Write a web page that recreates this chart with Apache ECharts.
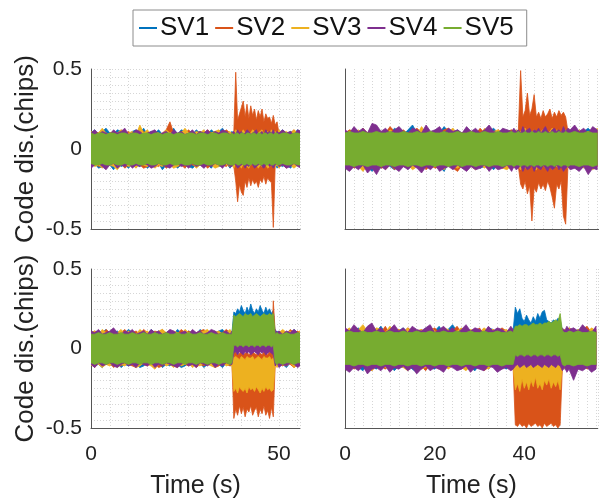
<!DOCTYPE html>
<html>
<head>
<meta charset="utf-8">
<script src="https://cdn.jsdelivr.net/npm/echarts@6/dist/echarts.min.js"></script>
<style>
  html, body { margin: 0; padding: 0; background: #fff; }
  #chart { width: 599px; height: 500px; }
</style>
</head>
<body>
<div id="chart"></div>
<script>
// ---- Data (chips). Each series is drawn as the envelope (hi / lo) of the dense noisy code-discriminator trace ----
const seriesNames = ['SV1', 'SV2', 'SV3', 'SV4', 'SV5'];
const seriesColors = ['#0072BD', '#D95319', '#EDB120', '#7E2F8E', '#77AC30'];
const yTickLabels = ['-0.5', '0', '0.5'];
const xTickLabelsLeft = [0, 50];
const xTickLabelsRight = [0, 20, 40];

// time samples (s)
const T = [0,1,2,3,4,5,6,7,8,9,10,11,12,13,14,15,16,17,18,19,20,21,22,23,24,25,26,27,28,29,30,31,32,33,34,35,36,37,
  37.5,38,38.5,39,39.5,40,40.5,41,41.5,42,42.5,43,43.5,
  44,44.5,45,45.5,46,46.5,47,47.5,48,48.5,49,49.5,50,
  51,52,53,54,55,56];

// ---- top-left panel ----
const tl1hi = [.10,.12,.09,.11,.13,.10,.09,.12,.11,.10, .09,.11,.12,.10,.13,.09,.11,.10,.12,.09, .11,.10,.13,.09,.12,.11,.10,.09,.12,.10, .11,.09,.12,.10,.11,.13,.09,.10,
  .11,.10,.12,.09,.11,.10,.12,.09,.10,.11,.09,.12,.10, .11,.09,.10,.12,.11,.09,.10,.11,.12,.10,.09,.11,.10, .12,.09,.11,.10,.12,.10];
const tl1lo = [-.10,-.09,-.12,-.11,-.09,-.10,-.13,-.09,-.11,-.10, -.12,-.09,-.10,-.11,-.09,-.12,-.10,-.11,-.09,-.13, -.10,-.11,-.09,-.12,-.10,-.09,-.11,-.12,-.10,-.09, -.11,-.10,-.12,-.09,-.11,-.10,-.09,-.12,
  -.10,-.11,-.09,-.12,-.10,-.09,-.11,-.10,-.12,-.09,-.11,-.10,-.09, -.12,-.10,-.11,-.09,-.10,-.12,-.11,-.09,-.10,-.11,-.09,-.12,-.10, -.11,-.09,-.12,-.10,-.09,-.11];
const tl2hi = [.09,.11,.10,.12,.09,.10,.11,.09,.12,.10, .11,.09,.10,.12,.11,.09,.10,.11,.09,.10, .12,.17,.10,.09,.11,.10,.12,.09,.10,.11, .09,.12,.10,.11,.09,.10,.12,.10,
  .10,.11,.48,.18,.22,.26,.30,.20,.28,.19,.27,.21,.25, .18,.24,.20,.25,.17,.22,.19,.20,.16,.21,.15,.17,.10, .11,.09,.10,.12,.09,.11];
const tl2lo = [-.10,-.09,-.11,-.10,-.12,-.09,-.10,-.11,-.09,-.12, -.10,-.11,-.09,-.10,-.12,-.11,-.09,-.10,-.11,-.09, -.12,-.10,-.09,-.11,-.10,-.12,-.09,-.10,-.11,-.10, -.09,-.12,-.10,-.11,-.09,-.10,-.11,-.09,
  -.10,-.11,-.20,-.33,-.22,-.27,-.29,-.20,-.24,-.18,-.23,-.19,-.22, -.20,-.24,-.19,-.21,-.17,-.22,-.18,-.20,-.21,-.49,-.10,-.09,-.11, -.10,-.12,-.09,-.11,-.10,-.09];
const tl3hi = [.11,.09,.10,.13,.10,.09,.11,.10,.12,.09, .10,.11,.09,.15,.10,.12,.09,.11,.10,.09, .12,.10,.11,.09,.10,.13,.10,.09,.11,.10, .12,.09,.10,.11,.12,.09,.10,.11,
  .09,.10,.12,.11,.09,.10,.12,.10,.11,.09,.10,.12,.11, .09,.10,.11,.12,.09,.10,.11,.09,.12,.10,.11,.09,.12, .10,.11,.09,.12,.10,.11];
const tl3lo = [-.09,-.11,-.10,-.12,-.09,-.10,-.11,-.13,-.10,-.09, -.11,-.10,-.12,-.09,-.10,-.11,-.09,-.12,-.10,-.11, -.09,-.10,-.12,-.11,-.09,-.10,-.11,-.09,-.12,-.10, -.11,-.09,-.10,-.12,-.11,-.09,-.10,-.11,
  -.10,-.12,-.09,-.11,-.10,-.12,-.09,-.10,-.11,-.12,-.09,-.10,-.11, -.09,-.12,-.10,-.11,-.09,-.10,-.12,-.11,-.10,-.09,-.11,-.10,-.12, -.09,-.11,-.10,-.12,-.10,-.11];
const tl4hi = [.10,.12,.09,.11,.10,.09,.12,.10,.11,.13, .09,.10,.12,.11,.09,.10,.11,.12,.09,.10, .11,.09,.12,.10,.11,.09,.10,.12,.09,.11, .10,.12,.09,.11,.10,.12,.11,.09,
  .10,.11,.09,.12,.10,.11,.09,.10,.12,.11,.09,.10,.11, .12,.09,.10,.11,.09,.12,.10,.11,.10,.12,.09,.11,.10, .12,.10,.11,.09,.12,.11];
const tl4lo = [-.12,-.10,-.09,-.11,-.13,-.10,-.09,-.12,-.10,-.11, -.09,-.12,-.10,-.11,-.09,-.10,-.12,-.11,-.09,-.10, -.11,-.12,-.10,-.09,-.11,-.10,-.12,-.09,-.11,-.10, -.12,-.10,-.11,-.09,-.10,-.12,-.09,-.11,
  -.11,-.09,-.10,-.12,-.11,-.10,-.09,-.12,-.10,-.11,-.09,-.10,-.12, -.11,-.10,-.09,-.11,-.12,-.10,-.09,-.11,-.10,-.12,-.10,-.09,-.11, -.10,-.12,-.11,-.09,-.11,-.12];
const tl5hi = [.10,.09,.10,.10,.09,.10,.10,.09,.10,.10, .09,.10,.10,.09,.10,.10,.09,.10,.10,.09, .10,.10,.09,.10,.10,.09,.10,.10,.09,.10, .10,.09,.10,.10,.09,.10,.10,.09,
  .10,.09,.10,.10,.09,.10,.10,.09,.10,.10,.09,.10,.10, .09,.10,.10,.09,.10,.10,.09,.10,.10,.09,.10,.10,.09, .10,.10,.09,.10,.10,.09];
const tl5lo = [-.09,-.10,-.10,-.09,-.10,-.10,-.09,-.10,-.10,-.09, -.10,-.10,-.09,-.10,-.10,-.09,-.10,-.10,-.09,-.10, -.10,-.09,-.10,-.10,-.09,-.10,-.10,-.09,-.10,-.10, -.09,-.10,-.10,-.09,-.10,-.10,-.09,-.10,
  -.10,-.10,-.09,-.10,-.10,-.09,-.10,-.10,-.09,-.10,-.10,-.09,-.10, -.10,-.09,-.10,-.10,-.09,-.10,-.10,-.09,-.10,-.10,-.09,-.10,-.10, -.09,-.10,-.10,-.09,-.10,-.10];

// ---- top-right panel ----
const tr1hi = [.11,.10,.13,.09,.12,.10,.14,.11,.09,.12, .10,.13,.11,.09,.12,.15,.10,.11,.13,.09, .12,.10,.14,.11,.10,.12,.09,.13,.11,.10, .12,.09,.11,.13,.10,.12,.11,.09,
  .12,.10,.11,.13,.09,.12,.10,.11,.09,.12,.10,.13,.11, .09,.10,.12,.11,.10,.09,.12,.11,.10,.13,.09,.11,.10, .12,.10,.11,.13,.10,.12];
const tr1lo = [-.11,-.13,-.10,-.12,-.09,-.11,-.14,-.10,-.12,-.09, -.11,-.13,-.10,-.09,-.12,-.11,-.10,-.13,-.09,-.12, -.10,-.11,-.14,-.09,-.12,-.10,-.11,-.13,-.10,-.09, -.12,-.11,-.10,-.13,-.09,-.11,-.12,-.10,
  -.11,-.10,-.12,-.09,-.13,-.10,-.11,-.12,-.09,-.10,-.11,-.13,-.10, -.12,-.09,-.11,-.10,-.12,-.11,-.09,-.13,-.10,-.12,-.11,-.10,-.12, -.10,-.13,-.11,-.09,-.12,-.10];
const tr2hi = [.10,.12,.11,.09,.13,.10,.11,.12,.09,.10, .14,.11,.10,.12,.09,.11,.13,.10,.12,.09, .11,.10,.12,.13,.09,.11,.10,.12,.11,.09, .13,.10,.11,.09,.12,.10,.11,.12,
  .11,.10,.12,.49,.20,.24,.35,.21,.25,.34,.20,.23,.19, .24,.20,.22,.25,.19,.23,.20,.24,.21,.23,.20,.11,.10, .12,.09,.11,.10,.13,.11];
const tr2lo = [-.11,-.09,-.12,-.10,-.13,-.11,-.10,-.09,-.12,-.11, -.10,-.13,-.09,-.11,-.12,-.10,-.11,-.09,-.13,-.10, -.12,-.11,-.10,-.09,-.12,-.14,-.10,-.11,-.09,-.12, -.10,-.11,-.13,-.10,-.09,-.12,-.11,-.10,
  -.10,-.12,-.11,-.22,-.25,-.20,-.28,-.23,-.45,-.24,-.27,-.21,-.25, -.22,-.26,-.20,-.24,-.30,-.37,-.22,-.25,-.20,-.42,-.47,-.11,-.10, -.12,-.10,-.11,-.13,-.09,-.11];
const tr3hi = [.09,.11,.10,.12,.09,.10,.13,.10,.11,.09, .12,.10,.09,.11,.10,.12,.09,.14,.10,.11, .09,.12,.10,.11,.13,.09,.10,.12,.11,.10, .09,.13,.10,.11,.12,.09,.10,.11,
  .10,.12,.09,.11,.10,.13,.09,.11,.10,.12,.09,.10,.11, .12,.10,.09,.11,.13,.10,.12,.09,.11,.10,.12,.10,.11, .09,.12,.10,.11,.09,.13];
const tr3lo = [-.10,-.12,-.09,-.11,-.14,-.10,-.12,-.11,-.09,-.13, -.10,-.11,-.12,-.09,-.10,-.13,-.11,-.10,-.09,-.12, -.11,-.10,-.13,-.09,-.11,-.12,-.10,-.09,-.11,-.13, -.10,-.12,-.09,-.11,-.10,-.12,-.13,-.10,
  -.12,-.10,-.11,-.13,-.10,-.12,-.09,-.11,-.10,-.12,-.13,-.09,-.11, -.10,-.12,-.11,-.09,-.13,-.10,-.11,-.12,-.10,-.09,-.11,-.12,-.10, -.11,-.09,-.12,-.10,-.13,-.11];
const tr4hi = [.12,.10,.14,.11,.13,.10,.16,.15,.11,.13, .10,.12,.14,.11,.10,.13,.12,.10,.15,.11, .12,.14,.10,.13,.11,.12,.10,.14,.11,.13, .10,.12,.15,.11,.10,.13,.12,.11,
  .13,.11,.12,.10,.14,.11,.12,.13,.10,.12,.11,.13,.10, .12,.14,.11,.10,.12,.13,.11,.12,.10,.14,.11,.13,.12, .15,.11,.13,.10,.14,.12];
const tr4lo = [-.12,-.14,-.11,-.13,-.10,-.15,-.12,-.16,-.11,-.13, -.10,-.12,-.14,-.11,-.13,-.10,-.12,-.15,-.11,-.13, -.10,-.14,-.12,-.11,-.13,-.10,-.12,-.14,-.11,-.13, -.12,-.10,-.14,-.11,-.13,-.12,-.10,-.14,
  -.11,-.13,-.12,-.10,-.14,-.11,-.13,-.12,-.10,-.14,-.11,-.12,-.13, -.10,-.12,-.14,-.11,-.13,-.12,-.10,-.13,-.11,-.14,-.12,-.11,-.13, -.12,-.14,-.11,-.16,-.12,-.13];
const tr5hi = [.10,.11,.10,.10,.11,.10,.10,.11,.10,.10, .11,.10,.10,.11,.10,.10,.11,.10,.10,.11, .10,.10,.11,.10,.10,.11,.10,.10,.11,.10, .10,.11,.10,.10,.11,.10,.10,.11,
  .10,.10,.11,.10,.10,.11,.10,.10,.11,.10,.10,.11,.10, .10,.11,.10,.10,.11,.10,.10,.11,.10,.10,.11,.10,.10, .11,.10,.10,.11,.10,.10];
const tr5lo = [-.10,-.10,-.11,-.10,-.10,-.11,-.10,-.10,-.11,-.10, -.10,-.11,-.10,-.10,-.11,-.10,-.10,-.11,-.10,-.10, -.11,-.10,-.10,-.11,-.10,-.10,-.11,-.10,-.10,-.11, -.10,-.10,-.11,-.10,-.10,-.11,-.10,-.10,
  -.11,-.10,-.10,-.11,-.10,-.10,-.11,-.10,-.10,-.11,-.10,-.10,-.11, -.10,-.10,-.11,-.10,-.10,-.11,-.10,-.10,-.11,-.10,-.10,-.11,-.10, -.10,-.11,-.10,-.10,-.11,-.10];

// ---- bottom-left panel ----
const bl1hi = [.10,.09,.11,.10,.12,.09,.10,.11,.09,.10, .12,.10,.09,.11,.10,.09,.12,.10,.11,.09, .10,.11,.09,.12,.10,.09,.11,.10,.09,.12, .10,.11,.09,.10,.11,.12,.09,.10,
  .10,.23,.22,.25,.23,.27,.24,.22,.26,.23,.28,.24,.22, .25,.23,.27,.24,.22,.26,.23,.25,.22,.24,.10,.11,.09, .11,.10,.09,.12,.10,.11];
const bl1lo = [-.09,-.11,-.10,-.12,-.09,-.10,-.11,-.09,-.12,-.10, -.11,-.09,-.10,-.12,-.11,-.09,-.10,-.11,-.09,-.12, -.10,-.11,-.09,-.10,-.12,-.11,-.09,-.10,-.11,-.09, -.12,-.10,-.09,-.11,-.10,-.12,-.09,-.11,
  -.10,.05,.04,.06,.05,.04,.06,.05,.04,.06,.05,.04,.06, .05,.04,.06,.05,.04,.06,.05,.04,.06,.05,-.10,-.11,-.09, -.10,-.12,-.09,-.11,-.10,-.09];
const bl2hi = [.09,.11,.10,.09,.12,.10,.11,.09,.10,.12, .09,.10,.11,.09,.12,.10,.09,.11,.10,.12, .09,.11,.10,.09,.12,.10,.11,.09,.10,.11, .12,.09,.10,.11,.09,.10,.12,.10,
  .11,-.03,-.02,-.04,-.03,-.02,-.04,-.03,-.02,-.04,-.03,-.02,-.03, -.04,-.02,-.03,-.04,-.02,-.03,-.04,-.02,-.03,.30,.10,.09,.11, .10,.09,.12,.10,.11,.09];
const bl2lo = [-.10,-.12,-.09,-.11,-.10,-.09,-.12,-.10,-.11,-.09, -.10,-.11,-.12,-.09,-.10,-.11,-.09,-.10,-.12,-.11, -.09,-.10,-.11,-.12,-.09,-.10,-.11,-.09,-.12,-.10, -.11,-.09,-.10,-.12,-.11,-.09,-.10,-.11,
  -.10,-.44,-.38,-.42,-.36,-.41,-.37,-.43,-.38,-.40,-.36,-.42,-.39, -.37,-.43,-.38,-.41,-.36,-.42,-.39,-.44,-.37,-.43,-.10,-.11,-.09, -.11,-.09,-.10,-.12,-.10,-.11];
const bl3hi = [.10,.11,.09,.12,.10,.09,.11,.10,.12,.09, .11,.10,.09,.12,.10,.11,.09,.10,.11,.12, .10,.09,.11,.10,.09,.12,.10,.11,.09,.10, .11,.12,.09,.10,.11,.09,.10,.12,
  .10,-.06,-.05,-.06,-.07,-.05,-.06,-.07,-.05,-.06,-.06,-.05,-.07, -.06,-.05,-.06,-.07,-.05,-.06,-.06,-.05,-.07,-.06,.11,.09,.10, .12,.10,.11,.09,.10,.12];
const bl3lo = [-.11,-.09,-.10,-.12,-.10,-.11,-.09,-.12,-.10,-.11, -.09,-.10,-.12,-.11,-.09,-.10,-.11,-.13,-.10,-.09, -.11,-.10,-.12,-.09,-.11,-.10,-.09,-.12,-.10,-.11, -.09,-.10,-.11,-.12,-.10,-.09,-.11,-.10,
  -.11,-.27,-.25,-.28,-.24,-.26,-.27,-.25,-.28,-.24,-.26,-.25,-.27, -.24,-.26,-.28,-.25,-.27,-.24,-.26,-.25,-.27,-.26,-.10,-.12,-.09, -.10,-.11,-.09,-.12,-.10,-.11];
const bl4hi = [.11,.10,.12,.09,.10,.11,.13,.10,.09,.11, .10,.12,.09,.10,.11,.09,.12,.10,.11,.09, .10,.12,.11,.09,.10,.11,.09,.12,.10,.11, .09,.10,.12,.11,.09,.10,.11,.09,
  .11,.04,.03,.04,.03,.04,.03,.04,.03,.04,.03,.04,.03, .04,.03,.04,.03,.04,.03,.04,.03,.04,.03,.12,.10,.11, .09,.11,.10,.12,.10,.09];
const bl4lo = [-.10,-.12,-.09,-.11,-.10,-.09,-.11,-.12,-.10,-.09, -.11,-.10,-.12,-.09,-.10,-.11,-.09,-.12,-.10,-.11, -.09,-.10,-.11,-.12,-.10,-.09,-.11,-.10,-.12,-.09, -.10,-.11,-.09,-.12,-.10,-.11,-.09,-.10,
  -.10,-.03,-.02,-.04,-.02,-.03,-.04,-.02,-.03,-.02,-.04,-.03,-.02, -.03,-.04,-.02,-.03,-.02,-.04,-.03,-.02,-.03,-.04,-.11,-.09,-.12, -.10,-.11,-.09,-.10,-.12,-.10];
const bl5hi = [.09,.09,.10,.09,.09,.10,.09,.09,.10,.09, .09,.10,.09,.09,.10,.09,.09,.10,.09,.09, .10,.09,.09,.10,.09,.09,.10,.09,.09,.10, .09,.09,.10,.09,.09,.10,.09,.09,
  .09,.21,.20,.21,.22,.21,.20,.22,.21,.21,.22,.20,.21, .22,.21,.20,.21,.22,.21,.21,.22,.21,.22,.09,.10,.09, .09,.10,.09,.09,.10,.09];
const bl5lo = [-.09,-.10,-.09,-.09,-.10,-.09,-.09,-.10,-.09,-.09, -.10,-.09,-.09,-.10,-.09,-.09,-.10,-.09,-.09,-.10, -.09,-.09,-.10,-.09,-.09,-.10,-.09,-.09,-.10,-.09, -.09,-.10,-.09,-.09,-.10,-.09,-.09,-.10,
  -.09,.02,.02,.01,.02,.02,.01,.02,.02,.01,.02,.02,.01, .02,.02,.01,.02,.02,.01,.02,.02,.01,.02,-.09,-.10,-.09, -.10,-.09,-.09,-.10,-.09,-.09];

// ---- bottom-right panel ----
const br1hi = [.12,.10,.11,.13,.09,.12,.10,.11,.14,.10, .12,.09,.11,.13,.10,.12,.11,.09,.13,.10, .11,.14,.10,.12,.15,.11,.10,.13,.09,.12, .11,.10,.13,.12,.10,.11,.09,.12,
  .11,.26,.22,.25,.19,.17,.21,.18,.16,.20,.17,.22,.19, .23,.24,.18,.17,.16,.18,.17,.19,.18,.11,.10,.12,.11, .10,.12,.11,.13,.10,.11];
const br1lo = [-.11,-.13,-.10,-.12,-.14,-.10,-.11,-.13,-.09,-.12, -.10,-.14,-.11,-.12,-.10,-.13,-.15,-.11,-.10,-.12, -.13,-.10,-.11,-.12,-.09,-.13,-.11,-.10,-.12,-.14, -.10,-.11,-.13,-.10,-.12,-.11,-.13,-.10,
  -.12,.00,.01,.00,-.01,.00,.01,.00,-.01,.00,.01,.00,-.01, .00,.01,.00,-.01,.00,.01,.00,-.01,.00,-.11,-.13,-.10,-.12, -.11,-.10,-.13,-.12,-.10,-.11];
const br2hi = [.10,.12,.11,.09,.13,.10,.12,.11,.10,.14, .09,.11,.12,.10,.13,.11,.09,.12,.10,.11, .13,.10,.12,.09,.11,.14,.10,.12,.11,.10, .13,.09,.11,.12,.10,.13,.11,.10,
  .12,-.15,-.16,-.15,-.17,-.15,-.16,-.15,-.17,-.16,-.15,-.16,-.17, -.15,-.16,-.15,-.17,-.16,-.15,-.16,-.15,-.17,.11,.12,.10,.13, .11,.10,.12,.14,.10,.12];
const br2lo = [-.12,-.10,-.13,-.11,-.10,-.12,-.14,-.10,-.11,-.13, -.10,-.12,-.11,-.09,-.13,-.10,-.12,-.11,-.14,-.10, -.11,-.13,-.10,-.12,-.11,-.10,-.13,-.09,-.12,-.11, -.10,-.14,-.12,-.10,-.11,-.13,-.10,-.12,
  -.11,-.48,-.49,-.47,-.49,-.48,-.50,-.47,-.49,-.48,-.47,-.49,-.48, -.50,-.47,-.49,-.48,-.47,-.49,-.48,-.50,-.48,-.12,-.10,-.13,-.11, -.17,-.12,-.10,-.13,-.11,-.12];
const br3hi = [.11,.13,.10,.12,.15,.11,.10,.13,.12,.10, .14,.11,.12,.10,.13,.09,.11,.12,.10,.14, .11,.10,.13,.12,.10,.11,.13,.10,.12,.11, .10,.13,.11,.12,.10,.11,.12,.10,
  .10,-.08,-.09,-.08,-.09,-.08,-.09,-.08,-.09,-.08,-.09,-.08,-.09, -.08,-.09,-.08,-.09,-.08,-.09,-.08,-.09,-.08,.12,.10,.11,.13, .10,.12,.11,.10,.13,.11];
const br3lo = [-.12,-.10,-.11,-.13,-.10,-.12,-.14,-.11,-.10,-.12, -.13,-.10,-.11,-.12,-.14,-.10,-.11,-.13,-.12,-.10, -.11,-.12,-.10,-.13,-.11,-.10,-.12,-.14,-.11,-.10, -.12,-.11,-.13,-.10,-.12,-.11,-.10,-.13,
  -.12,-.26,-.22,-.27,-.19,-.25,-.21,-.26,-.20,-.24,-.18,-.25,-.22, -.26,-.20,-.23,-.19,-.25,-.21,-.24,-.20,-.26,-.11,-.13,-.10,-.12, -.11,-.13,-.10,-.12,-.11,-.10];
const br4hi = [.13,.11,.15,.12,.10,.14,.16,.11,.13,.10, .12,.15,.11,.13,.10,.14,.12,.11,.13,.15, .10,.12,.14,.11,.13,.10,.12,.15,.11,.13, .12,.10,.14,.11,.13,.12,.10,.14,
  .12,-.01,-.02,-.01,-.02,-.01,-.02,-.01,-.02,-.01,-.02,-.01,-.02, -.01,-.02,-.01,-.02,-.01,-.02,-.01,-.02,-.01,.13,.11,.14,.12, .13,.11,.15,.12,.10,.14];
const br4lo = [-.13,-.15,-.12,-.14,-.11,-.16,-.13,-.12,-.14,-.11, -.15,-.12,-.13,-.11,-.14,-.12,-.16,-.13,-.11,-.14, -.12,-.13,-.15,-.11,-.12,-.14,-.13,-.11,-.15,-.12, -.13,-.14,-.11,-.12,-.15,-.13,-.12,-.14,
  -.13,-.11,-.10,-.12,-.11,-.10,-.12,-.11,-.10,-.12,-.11,-.10,-.11, -.12,-.10,-.11,-.12,-.10,-.11,-.12,-.10,-.11,-.14,-.12,-.15,-.13, -.20,-.13,-.14,-.12,-.15,-.13];
const br5hi = [.10,.11,.10,.10,.11,.10,.10,.11,.10,.10, .11,.10,.10,.11,.10,.10,.11,.10,.10,.11, .10,.10,.11,.10,.10,.11,.10,.10,.11,.10, .10,.11,.10,.10,.11,.10,.10,.11,
  .10,.14,.14,.15,.14,.15,.15,.14,.15,.16,.15,.15,.16, .15,.16,.16,.17,.16,.17,.18,.17,.22,.11,.10,.10,.11, .10,.11,.10,.10,.11,.10];
const br5lo = [-.10,-.10,-.11,-.10,-.10,-.11,-.10,-.10,-.11,-.10, -.10,-.11,-.10,-.10,-.11,-.10,-.10,-.11,-.10,-.10, -.11,-.10,-.10,-.11,-.10,-.10,-.11,-.10,-.10,-.11, -.10,-.10,-.11,-.10,-.10,-.11,-.10,-.10,
  -.10,-.04,-.05,-.04,-.04,-.05,-.04,-.04,-.05,-.04,-.04,-.05,-.04, -.04,-.05,-.04,-.04,-.05,-.04,-.04,-.05,-.04,-.10,-.11,-.10,-.10, -.11,-.10,-.10,-.11,-.10,-.10];

// ---- build chart ----
const FONT = '"Liberation Sans", Arial, Helvetica, sans-serif';
const TEXT = '#222';
const panels = [
  { hi: [tl1hi, tl2hi, tl3hi, tl4hi, tl5hi], lo: [tl1lo, tl2lo, tl3lo, tl4lo, tl5lo] },
  { hi: [tr1hi, tr2hi, tr3hi, tr4hi, tr5hi], lo: [tr1lo, tr2lo, tr3lo, tr4lo, tr5lo] },
  { hi: [bl1hi, bl2hi, bl3hi, bl4hi, bl5hi], lo: [bl1lo, bl2lo, bl3lo, bl4lo, bl5lo] },
  { hi: [br1hi, br2hi, br3hi, br4hi, br5hi], lo: [br1lo, br2lo, br3lo, br4lo, br5lo] }
];

const grids = [
  { left: 91, top: 69, width: 209, height: 160 },
  { left: 345, top: 69, width: 254, height: 160 },
  { left: 91, top: 269, width: 209, height: 160 },
  { left: 345, top: 269, width: 254, height: 160 }
];

const near = (a, b) => Math.abs(a - b) < 1e-6;
const dotted = { show: true, lineStyle: { color: '#d6d6d6', type: [1, 2], width: 1 } };
const axLine = { show: true, onZero: false, lineStyle: { color: '#555', width: 1 } };

function xAxisFor(gi) {
  const isLeft = gi % 2 === 0;
  const isBottom = gi >= 2;
  const labels = isLeft ? xTickLabelsLeft : xTickLabelsRight;
  return {
    type: 'value', gridIndex: gi, min: 0, max: isLeft ? 55.6 : 56.4, interval: isLeft ? 5 : 2,
    axisLine: axLine, axisTick: { show: false },
    splitLine: dotted,
    axisLabel: {
      show: isBottom, fontSize: 21, color: TEXT, fontFamily: FONT, margin: 16,
      showMaxLabel: false,
      formatter: function (v) { for (const l of labels) { if (near(v, l)) return String(l); } return ''; }
    },
    name: isBottom ? 'Time (s)' : '', nameLocation: 'middle', nameGap: 46,
    nameTextStyle: { fontSize: 25, color: TEXT, fontFamily: FONT }
  };
}
function yAxisFor(gi) {
  const isLeft = gi % 2 === 0;
  return {
    type: 'value', gridIndex: gi, min: -0.5, max: 0.5, interval: isLeft ? 0.05 : 0.5,
    axisLine: axLine, axisTick: { show: false },
    splitLine: isLeft ? dotted : { show: false },
    axisLabel: {
      show: isLeft, fontSize: 21, color: TEXT, fontFamily: FONT, margin: 9,
      formatter: function (v) { for (const l of yTickLabels) { if (near(v, parseFloat(l))) return l; } return ''; }
    },
    name: isLeft ? 'Code dis.(chips)' : '', nameLocation: 'middle', nameRotate: 90, nameGap: 52,
    nameTextStyle: { fontSize: 26, color: TEXT, fontFamily: FONT }
  };
}

function bandSeries(gi, si) {
  const hi = panels[gi].hi[si], lo = panels[gi].lo[si];
  const color = seriesColors[si];
  const n = Math.min(T.length, hi.length, lo.length);
  const data = [];
  for (let i = 0; i < n; i++) data.push([T[i], lo[i], hi[i]]);
  return {
    type: 'custom', name: seriesNames[si], coordinateSystem: 'cartesian2d',
    xAxisIndex: gi, yAxisIndex: gi, clip: true, silent: true, z: 2 + si,
    itemStyle: { color: color },
    encode: { x: 0, y: [1, 2] },
    data: data,
    renderItem: function (params, api) {
      if (params.dataIndex !== 0) return null;
      const up = [], dn = [];
      for (let i = 0; i < n; i++) {
        up.push(api.coord([data[i][0], data[i][2]]));
        dn.push(api.coord([data[i][0], data[i][1]]));
      }
      return {
        type: 'polygon',
        shape: { points: up.concat(dn.reverse()) },
        style: { fill: color, stroke: color, lineWidth: 0.8 }
      };
    }
  };
}

const series = [];
for (let gi = 0; gi < 4; gi++) for (let si = 0; si < 5; si++) series.push(bandSeries(gi, si));

const chart = echarts.init(document.getElementById('chart'), null, { renderer: 'canvas' });
chart.setOption({
  animation: false,
  backgroundColor: '#fff',
  color: seriesColors,
  textStyle: { fontFamily: FONT },
  legend: {
    data: seriesNames, left: 133, top: 10, orient: 'horizontal',
    icon: 'rect', itemWidth: 18, itemHeight: 2, itemGap: 6,
    padding: [5, 13, 5, 6], borderColor: '#8c8c8c', borderWidth: 1,
    selectedMode: false,
    textStyle: { fontSize: 26, color: '#111', fontFamily: FONT, padding: [0, 0, 0, -2] }
  },
  grid: grids,
  xAxis: [0, 1, 2, 3].map(xAxisFor),
  yAxis: [0, 1, 2, 3].map(yAxisFor),
  series: series
});
</script>
</body>
</html>
